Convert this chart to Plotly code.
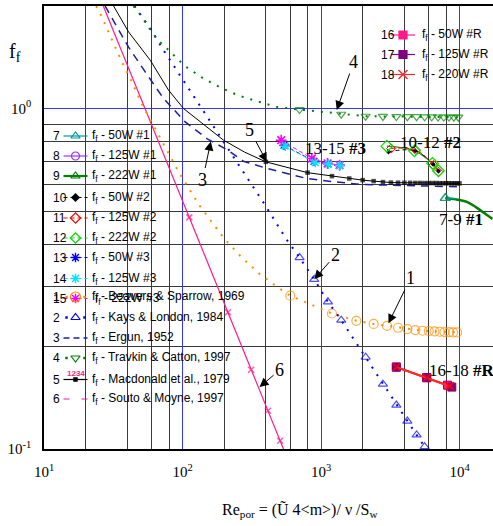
import math
import plotly.graph_objects as go

# ---------------- correlations from the literature ----------------
# 1  Beavers & Sparrow, 1969
re_beavers = [23.8, 26.2, 30.9, 36.5, 43.1, 51.7, 63.5, 77.1, 93.6, 133, 200, 268, 359, 489,
              600, 1200, 1800, 2400, 3000, 3600, 4200, 4800, 5400, 6000, 6600, 7200, 7800,
              8400, 9000, 9600]
f_beavers = [2.0, 1.857, 1.594, 1.37, 1.197, 1.016, 0.874, 0.755, 0.652, 0.518, 0.415, 0.365,
             0.327, 0.298, 0.282, 0.250, 0.238, 0.233, 0.230, 0.227, 0.225, 0.2235, 0.2225,
             0.222, 0.2215, 0.221, 0.2205, 0.2205, 0.220, 0.220]

# 2  Kays & London, 1984
re_kays = [45, 58.5, 73, 93.6, 119, 152, 190, 275, 395, 558, 700, 893, 1122, 1400, 2100,
           2800, 3500, 4200, 4900, 5600]
f_kays = [2.0, 1.718, 1.483, 1.272, 1.094, 0.945, 0.817, 0.652, 0.52, 0.415, 0.365, 0.315,
          0.2706, 0.239, 0.186, 0.155, 0.1346, 0.1208, 0.110, 0.1016]

# 3  Ergun, 1952
re_ergun = [27.6, 40.7, 53.8, 73, 104.6, 150, 215, 275, 406, 790, 1200, 2005, 9950]
f_ergun = [2.0, 1.516, 1.281, 1.07, 0.913, 0.816, 0.752, 0.700, 0.667, 0.623, 0.610, 0.598, 0.589]

# 4  Travkin & Catton, 1997
re_travkin = [44.3, 50.9, 57.8, 66, 78.5, 91.2, 104.5, 141.8, 190, 258, 345, 475, 700, 1400,
              2100, 2800, 3500, 4200, 4900, 5600, 6300, 7000, 7700, 8400, 9100, 9800]
f_travkin = [2.0, 1.858, 1.718, 1.594, 1.49, 1.402, 1.331, 1.225, 1.149, 1.089, 1.053, 1.011,
             0.993, 0.962, 0.949, 0.948, 0.947, 0.946, 0.946, 0.945, 0.945, 0.944, 0.944,
             0.944, 0.943, 0.943]

# 5  Macdonald et al., 1979
re_macd = [31.8, 40.8, 58.5, 79.3, 101.7, 134, 198, 280,
           400, 800, 1200, 1600, 2000, 2400, 2800, 3200, 3600, 4000, 4400, 4800, 5200, 5600,
           6000, 6400, 6800, 7200, 7600, 8000, 8400, 8800, 9200, 9600, 10000]
f_macd = [2.0, 1.678, 1.386, 1.132, 1.0, 0.913, 0.807, 0.745,
          0.697, 0.648, 0.633, 0.623, 0.616, 0.612, 0.608, 0.606, 0.6055, 0.605, 0.605,
          0.6045, 0.6045, 0.604, 0.604, 0.604, 0.604, 0.6035, 0.6035, 0.6035, 0.6035, 0.603,
          0.603, 0.603, 0.603]

# 6  Souto & Moyne, 1997
re_souto = [26.8, 112, 213, 313, 414, 507, 560]
f_souto = [2.0, 0.479, 0.252, 0.171, 0.1295, 0.1057, 0.0957]

# ---------------- measured friction factors ----------------
re_50w_1 = [7900, 9400]
f_50w_1 = [0.546, 0.543]
re_125w_1 = [7900, 9400]
f_125w_1 = [0.545, 0.542]
re_222w_1 = [7900, 9400, 11300, 12700, 14100, 15600, 17300]
f_222w_1 = [0.545, 0.541, 0.532, 0.518, 0.503, 0.488, 0.474]

re_50w_2 = [3070, 4780, 6450, 7050]
f_50w_2 = [0.746, 0.752, 0.686, 0.655]
re_125w_2 = [3210, 4840, 6490, 7050]
f_125w_2 = [0.763, 0.755, 0.682, 0.652]
re_222w_2 = [2990, 4730, 6380, 7050]
f_222w_2 = [0.775, 0.751, 0.690, 0.656]

re_50w_3 = [540, 890, 1120, 1365]
f_50w_3 = [0.780, 0.700, 0.688, 0.680]
re_125w_3 = [552, 908, 1130, 1370]
f_125w_3 = [0.775, 0.694, 0.686, 0.680]
re_222w_3 = [516, 859, 1114, 1361]
f_222w_3 = [0.807, 0.713, 0.690, 0.682]

re_50w_r = [3500, 5800, 8200]
f_50w_r = [0.174, 0.162, 0.154]
re_125w_r = [3500, 5800, 8800]
f_125w_r = [0.174, 0.162, 0.152]
re_220w_r = [3500, 5800, 8500]
f_220w_r = [0.174, 0.162, 0.153]

# axis ticks / grid
x_major = [10, 100, 1000, 10000]
x_major_text = ["10<sup>1</sup>", "10<sup>2</sup>", "10<sup>3</sup>", "10<sup>4</sup>"]
x_minor = [20, 40, 60, 80, 200, 400, 600, 800, 2000, 4000, 6000, 8000]
y_major = [0.1, 1]
y_major_text = ["10<sup>-1</sup>", "10<sup>0</sup>"]
y_minor = [0.2, 0.3, 0.4, 0.5, 0.6, 0.7, 0.8, 0.9]

# colours
ORANGE = "#FF8C00"
BLUE = "#0000FF"
NAVY = "#1F1F9F"
GREEN = "#008000"
PINK = "#FF1A8C"
TEAL = "#009999"
PURPLE = "#9933FF"
LIME = "#00DD00"
RED = "#FF0000"
CYAN = "#00E5FF"
MAGENTA = "#FF00FF"
DPURPLE = "#800080"
RRED = "#FF2A2A"
GRIDBLUE = "#3535FF"
GRID = "#3a3a3a"

DOT = "2px,7px"
DASH = "4px,3px"

W, H = 493, 526
L, R, T, B = 44, 0, 6, 77

fig = go.Figure()


def curve(x, y, color, dash="solid", width=1.0, symbol="circle", sizes=None, mcolor=None,
          mline=1.2, shape="linear", fill=None):
    has_markers = sizes is not None
    trace = dict(x=x, y=y, mode="lines+markers" if has_markers else "lines",
                 line=dict(color=color, dash=dash, width=width, shape=shape),
                 hoverinfo="skip")
    if has_markers:
        trace["marker"] = dict(symbol=symbol, size=sizes,
                               color=fill if fill else (mcolor or color),
                               line=dict(color=mcolor or color, width=mline))
    fig.add_trace(go.Scatter(**trace))


# literature correlations
curve(re_souto, f_souto, PINK, width=1.2, symbol="x-thin-open",
      sizes=[0] + [6] * (len(re_souto) - 2) + [0], mline=1.5)
curve(re_beavers, f_beavers, ORANGE, dash=DOT, width=2, symbol="circle-open",
      sizes=[9 if r >= 600 else 0 for r in re_beavers])
curve(re_kays, f_kays, BLUE, dash=DOT, width=2, symbol="triangle-up-open",
      sizes=[8 if r >= 700 else 0 for r in re_kays])
curve(re_ergun, f_ergun, NAVY, dash="8px,6px", width=1.5)
curve(re_travkin, f_travkin, GREEN, dash=DOT, width=2, symbol="triangle-down-open",
      sizes=[8 if r >= 700 else 0 for r in re_travkin])
curve(re_macd, f_macd, "black", width=1, symbol="square",
      sizes=[4.5 if r >= 400 else 0 for r in re_macd], mline=0)

# measured data
curve(re_125w_1, f_125w_1, PURPLE, width=1)
curve(re_222w_1, f_222w_1, GREEN, width=2.5, symbol="triangle-up-open",
      sizes=[9] + [0] * (len(re_222w_1) - 1), shape="spline")
curve(re_50w_1, f_50w_1, TEAL, width=1.2, symbol="triangle-up-open", sizes=[9, 0])

curve(re_222w_2, f_222w_2, "#1E8C1E", width=1.2, shape="spline")
curve(re_50w_2, f_50w_2, "black", dash=DASH, width=1, symbol="diamond", sizes=4,
      shape="spline", mline=0)
curve(re_125w_2, f_125w_2, RED, dash=DASH, width=1, symbol="diamond-open", sizes=7,
      shape="spline", mline=1)
fig.add_trace(go.Scatter(x=re_222w_2, y=f_222w_2, mode="markers",
                         marker=dict(symbol="diamond-open", size=9, color=LIME,
                                     line=dict(color=LIME, width=1.2)), hoverinfo="skip"))

curve(re_50w_3, f_50w_3, BLUE, dash=DASH, width=1, symbol="asterisk-open", sizes=8)
curve(re_222w_3, f_222w_3, MAGENTA, dash=DASH, width=1, symbol="asterisk-open", sizes=9,
      mline=1.6)
curve(re_125w_3, f_125w_3, CYAN, dash=DASH, width=1, symbol="asterisk-open", sizes=8,
      mline=1.4)

curve(re_50w_r, f_50w_r, RRED, width=2, symbol="square", sizes=8, mcolor=DPURPLE,
      fill=PINK, mline=1)
curve(re_125w_r, f_125w_r, RRED, width=2, symbol="square", sizes=8, mcolor=DPURPLE,
      fill=DPURPLE, mline=1)
curve(re_220w_r, f_220w_r, RRED, width=2, symbol="x-thin-open", sizes=8, mcolor=RED, mline=1.5)

# ---------------- in-plot key (pixel overlay axes) ----------------
SANS = "Liberation Sans, Arial, sans-serif"
SERIF = "Liberation Serif, Times New Roman, serif"
annotations = []


def key_row(y, num, label, color, dash="solid", width=1.2, symbol=None, size=8, fill=None,
            mline=1.2, x_num=51, x0=63.5, x1=87.5, x_txt=90, num_dy=0, txt_dx=0):
    if dash == DOT:
        fig.add_trace(go.Scatter(x=[x0 + 3, x1 - 3], y=[y, y], mode="markers",
                                 marker=dict(size=2.5, color=color, symbol="square"),
                                 xaxis="x2", yaxis="y2", hoverinfo="skip"))
    else:
        fig.add_trace(go.Scatter(x=[x0, x1], y=[y, y], mode="lines",
                                 line=dict(color=color, dash=dash, width=width),
                                 xaxis="x2", yaxis="y2", hoverinfo="skip"))
    if symbol:
        fig.add_trace(go.Scatter(x=[(x0 + x1) / 2], y=[y], mode="markers",
                                 marker=dict(symbol=symbol, size=size,
                                             color=fill if fill else color,
                                             line=dict(color=color, width=mline)),
                                 xaxis="x2", yaxis="y2", hoverinfo="skip"))
    annotations.append(dict(x=x_num, y=y + num_dy, xref="x2", yref="y2", text=num,
                            showarrow=False, xanchor="left", yanchor="middle",
                            font=dict(family=SANS, size=12, color="black")))
    annotations.append(dict(x=x_txt + txt_dx, y=y, xref="x2", yref="y2", text=label,
                            showarrow=False, xanchor="left", yanchor="middle",
                            font=dict(family=SANS, size=12, color="black")))


FF = "f<sub>f</sub>"
key_row(136, "7", FF + " - 50W #1", TEAL, symbol="triangle-up-open")
key_row(156, "8", FF + " - 125W #1", PURPLE, symbol="circle-open")
key_row(176, "9", FF + " - 222W #1", GREEN, width=2.2, symbol="triangle-up-open")
key_row(197.5, "10", FF + " - 50W #2", "black", dash=DASH, symbol="diamond", size=7, mline=0)
key_row(218, "11", FF + " - 125W #2", RED, dash=DASH, symbol="diamond-open")
key_row(238, "12", FF + " - 222W #2", LIME, dash=DASH, symbol="diamond-open")
key_row(257.5, "13", FF + " - 50W #3", BLUE, dash=DASH, symbol="asterisk-open", mline=1.4)
key_row(278.5, "14", FF + " - 125W #3", CYAN, dash=DASH, symbol="asterisk-open", mline=1.4)
key_row(298.5, "15", FF + " - 222W #3", MAGENTA, dash=DASH, symbol="asterisk-open",
        mline=1.4, txt_dx=3)
key_row(297, "1", FF + " - Beavers & Sparrow, 1969", ORANGE, dash=DOT,
        symbol="circle-open", size=10)
key_row(317.5, "2", FF + " - Kays & London, 1984", BLUE, dash=DOT, symbol="triangle-up-open")
key_row(338, "3", FF + " - Ergun, 1952", NAVY, dash="6px,4px", width=1.5)
key_row(358, "4", FF + " - Travkin & Catton, 1997", GREEN, dash=DOT,
        symbol="triangle-down-open")
key_row(379.5, "5", FF + " - Macdonald et al., 1979", "black", symbol="square", size=4.5,
        mline=0)
key_row(399, "6", FF + " - Souto & Moyne, 1997", PINK, dash="6px,12px", width=1.2)
annotations.append(dict(x=75.5, y=373, xref="x2", yref="y2", text="<b>1234</b>",
                        showarrow=False, font=dict(family=SANS, size=8, color=PINK)))

key_row(35, "16", FF + " - 50W #R", PINK, symbol="square", size=8, x_num=379, x0=391,
        x1=415, x_txt=420)
key_row(54.5, "17", FF + " - 125W #R", DPURPLE, symbol="square", size=8, x_num=379, x0=391,
        x1=415, x_txt=420)
key_row(74.5, "18", FF + " - 220W #R", RRED, symbol="x-thin-open", size=9, mline=1.5,
        x_num=379, x0=391, x1=415, x_txt=420)

# ---------------- curve labels ----------------
LBL = dict(family=SERIF, size=18, color="black")


def pointer(text, re, f, ax, ay):
    annotations.append(dict(x=math.log10(re), y=math.log10(f), xref="x", yref="y",
                            text=text, showarrow=True, ax=ax, ay=ay, arrowhead=2,
                            arrowsize=1.8, arrowwidth=1, arrowcolor="black", font=LBL))


pointer("4", 1300, 0.99, 17, -48)
pointer("5", 406, 0.697, -17, -32)
pointer("3", 160, 0.80, -8, 38)
pointer("2", 893, 0.315, 21, -24)
pointer("1", 3070, 0.234, 22, -45)
pointer("6", 360, 0.152, 20, -17)

for txt, px, py in [("13-15 <b>#3</b>", 335, 148), ("10-12 <b>#2</b>", 430, 142),
                    ("7-9 <b>#1</b>", 460.5, 219.5), ("16-18 <b>#R</b>", 461, 370)]:
    annotations.append(dict(x=px, y=py, xref="x2", yref="y2", text=txt, showarrow=False,
                            font=dict(family=SERIF, size=17, color="black")))

# axis titles
pw, ph = W - L - R, H - T - B
annotations.append(dict(x=(15 - L) / pw, y=(H - B - 52) / ph, xref="paper", yref="paper",
                        xanchor="center", yanchor="middle",
                        text="f<sub>f</sub>", showarrow=False,
                        font=dict(family=SERIF, size=20, color="black")))
annotations.append(dict(x=(300 - L) / pw, y=(H - B - 511) / ph, xref="paper", yref="paper",
                        xanchor="center", yanchor="middle",
                        text="Re<sub>por</sub> = (Ũ 4&lt;m&gt;)/ ν /S<sub>w</sub>",
                        showarrow=False, font=dict(family=SERIF, size=16, color="black")))

fig.update_layout(
    width=W, height=H,
    margin=dict(l=L, r=R, t=T, b=B, pad=0),
    paper_bgcolor="white", plot_bgcolor="white",
    showlegend=False,
    annotations=annotations,
    xaxis=dict(type="log", range=[1, 1 + pw / 138.5], tickmode="array", tickvals=x_major,
               ticktext=x_major_text, showgrid=True, gridcolor=GRIDBLUE, gridwidth=1,
               minor=dict(tickmode="array", tickvals=x_minor, showgrid=True, gridcolor=GRID,
                          gridwidth=1, ticks=""),
               showline=True, linecolor="black", linewidth=2, mirror=True, ticks="",
               ticklabelstandoff=8, zeroline=False,
               tickfont=dict(family=SERIF, size=15, color="black")),
    yaxis=dict(type="log", range=[-1, math.log10(2)], tickmode="array", tickvals=y_major,
               ticktext=y_major_text, showgrid=True, gridcolor=GRIDBLUE, gridwidth=1,
               minor=dict(tickmode="array", tickvals=y_minor, showgrid=True, gridcolor=GRID,
                          gridwidth=1, ticks=""),
               showline=True, linecolor="black", linewidth=1.5, mirror=False, ticks="",
               ticklabelstandoff=8, zeroline=False,
               tickfont=dict(family=SERIF, size=15, color="black")),
    xaxis2=dict(overlaying="x", range=[L, W - R], visible=False, fixedrange=True),
    yaxis2=dict(overlaying="y", range=[H - B, T], visible=False, fixedrange=True),
)

fig.write_html("out.html")
